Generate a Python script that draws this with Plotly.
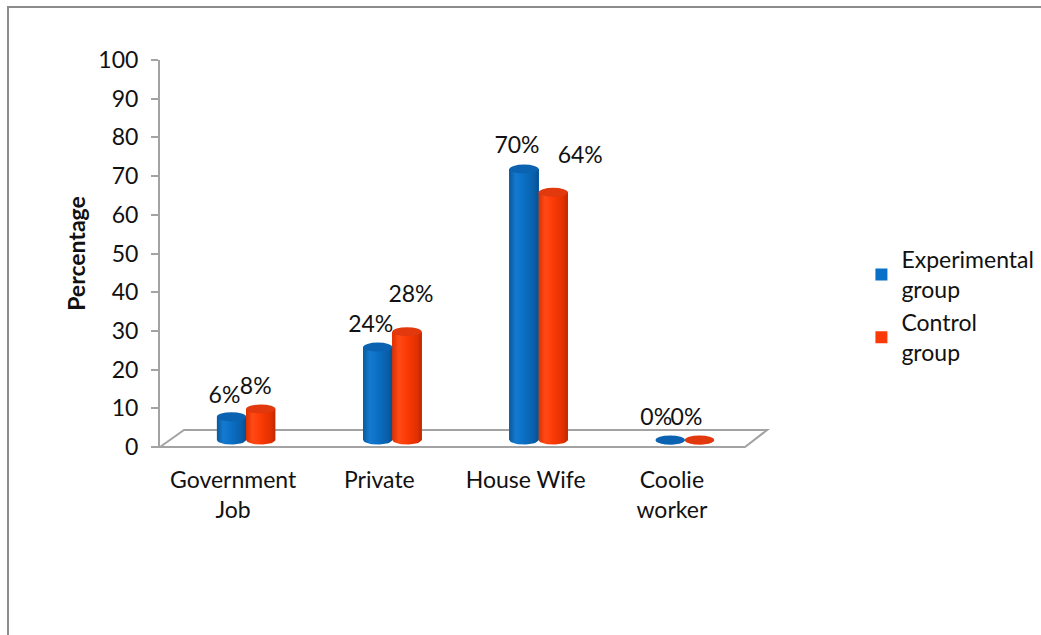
import math
import plotly.graph_objects as go

# ---- data ----
categories = ["Government<br>Job", "Private", "House Wife", "Coolie<br>worker"]
experimental = [6, 24, 70, 0]
control = [8, 28, 64, 0]
series_names = ["Experimental<br>group", "Control<br>group"]
y_ticks = [0, 10, 20, 30, 40, 50, 60, 70, 80, 90, 100]

# ---- styling / geometry ----
W, H = 1041, 635
ML, MR, MT, MB = 160, 296, 60, 188
PW, PH = W - ML - MR, H - MT - MB
Y_MAX = 100
PX_PER_X = PW / len(categories)
PX_PER_Y = PH / Y_MAX

FONT = "Lato"
FS = 23
TXT = "#111111"
AXIS_GRAY = "#a3a3a3"
FRAME_GRAY = "#8c8c8c"

BODY = ["#0870c6", "#fb3a08"]
CAP = ["#0b62b0", "#e2380e"]
SHADE = [
    [[0, "#0a5a9e"], [0.22, "#147ad0"], [0.5, "#0a6fc5"], [0.85, "#095ea8"], [1, "#084f8c"]],
    [[0, "#dc3000"], [0.22, "#ff4a16"], [0.5, "#fb3a06"], [0.85, "#e03000"], [1, "#be2700"]],
]
BAR_W = 0.2
BAR_OFF = [-0.2, 0.0]

# depth of the floor and the bars' placement inside it (pixels)
FLOOR_DX, FLOOR_DY = 24, 17
BAR_DX, BAR_DY = 13, 7
CAP_HALF_PX = 4.5

# per-label nudges (pixels) for the value labels
LABEL_DX = [[-7, -7, -7, -14], [-5, 4, 27, -13]]
LABEL_DY = [[20, 21, 22, 21], [21, 35, 35, 21]]

series = [experimental, control]
xs = list(range(len(categories)))
x_shift = BAR_DX / PX_PER_X
y_shift = BAR_DY / PX_PER_Y
cap_half = CAP_HALF_PX / PX_PER_Y

fig = go.Figure()
for s, vals in enumerate(series):
    fig.add_trace(go.Bar(
        x=xs, y=vals, name=series_names[s],
        width=BAR_W, offset=BAR_OFF[s],
        marker=dict(color=BODY[s], line=dict(width=0)),
        xaxis="x2", yaxis="y2",
        hovertemplate="%{y}%<extra></extra>",
    ))

# shaded cylinder bodies drawn over the bars (rounded front base)
N_ARC = 24
for s, vals in enumerate(series):
    for i, v in enumerate(vals):
        x0 = i + BAR_OFF[s]
        cx, rx = x0 + BAR_W / 2, BAR_W / 2
        px, py = [], []
        for k in range(N_ARC + 1):
            t = math.pi + math.pi * k / N_ARC
            px.append(cx + rx * math.cos(t))
            py.append(cap_half * math.sin(t))
        px += [x0 + BAR_W, x0, x0]
        py += [v, v, 0]
        fig.add_trace(go.Scatter(
            x=px, y=py, mode="lines", line=dict(width=0),
            fill="toself",
            fillgradient=dict(type="horizontal", colorscale=SHADE[s]),
            xaxis="x2", yaxis="y2", showlegend=False, hoverinfo="skip",
        ))

# value labels, placed on the front axes above each cylinder
for s, vals in enumerate(series):
    lx = [i + BAR_OFF[s] + BAR_W / 2 + x_shift + LABEL_DX[s][i] / PX_PER_X
          for i in xs]
    ly = [v + y_shift + LABEL_DY[s][i] / PX_PER_Y for i, v in enumerate(vals)]
    fig.add_trace(go.Scatter(
        x=lx, y=ly, mode="text", text=[f"{v}%" for v in vals],
        textposition="middle center",
        textfont=dict(family=FONT, size=FS, color=TXT),
        showlegend=False, hoverinfo="skip",
    ))

shapes = []
# floor of the 3-D plot area (paper coordinates)
fdx, fdy = FLOOR_DX / PW, FLOOR_DY / PH
shapes.append(dict(
    type="path", xref="paper", yref="paper", layer="below",
    path=f"M 0 0 L {fdx} {fdy} L {1 + fdx * 0.92} {fdy} L 1 0 Z",
    line=dict(color=AXIS_GRAY, width=2), fillcolor="white",
))
# outer chart frame (top and left edges visible)
fl, ft = (8 - ML) / PW, (H - MB - 7) / PH
fr, fb = (W + 10 - ML) / PW, -(MB + 10) / PH
shapes.append(dict(
    type="path", xref="paper", yref="paper", layer="below",
    path=f"M {fl} {fb} L {fl} {ft} L {fr} {ft}",
    line=dict(color=FRAME_GRAY, width=2),
))

# top faces of the cylinders
for s, vals in enumerate(series):
    for i, v in enumerate(vals):
        x0 = i + BAR_OFF[s]
        shapes.append(dict(
            type="circle", xref="x2", yref="y2", layer="above",
            x0=x0, x1=x0 + BAR_W, y0=v - cap_half, y1=v + cap_half,
            fillcolor=CAP[s], line=dict(width=0),
        ))

fig.update_layout(
    width=W, height=H,
    margin=dict(l=ML, r=MR, t=MT, b=MB, pad=0, autoexpand=False),
    paper_bgcolor="white", plot_bgcolor="rgba(0,0,0,0)",
    font=dict(family=FONT, size=FS, color=TXT),
    shapes=shapes,
    showlegend=True,
    legend=dict(
        x=1.199, y=0.54, xanchor="left", yanchor="top",
        font=dict(family=FONT, size=FS, color=TXT),
        bgcolor="rgba(0,0,0,0)", itemwidth=30, tracegroupgap=0,
    ),
    xaxis=dict(
        range=[-0.5, len(categories) - 0.5],
        tickvals=xs, ticktext=categories,
        showline=False, showgrid=False, zeroline=False, ticks="",
        ticklabelstandoff=17,
        tickfont=dict(family=FONT, size=FS, color=TXT),
    ),
    yaxis=dict(
        range=[0, Y_MAX], tickvals=y_ticks,
        showline=True, linecolor=AXIS_GRAY, linewidth=2,
        ticks="outside", ticklen=7, tickwidth=2, tickcolor=AXIS_GRAY,
        showgrid=False, zeroline=False, ticklabelstandoff=8,
        tickfont=dict(family=FONT, size=FS, color=TXT),
        title=dict(text="<b>Percentage</b>", standoff=6,
                   font=dict(family=FONT, size=23, color=TXT)),
    ),
    xaxis2=dict(
        overlaying="x", range=[-0.5 - x_shift, len(categories) - 0.5 - x_shift],
        visible=False,
    ),
    yaxis2=dict(
        overlaying="y", range=[-y_shift, Y_MAX - y_shift], visible=False,
    ),
    bargap=0, barmode="overlay",
)

fig.write_html("out.html")
